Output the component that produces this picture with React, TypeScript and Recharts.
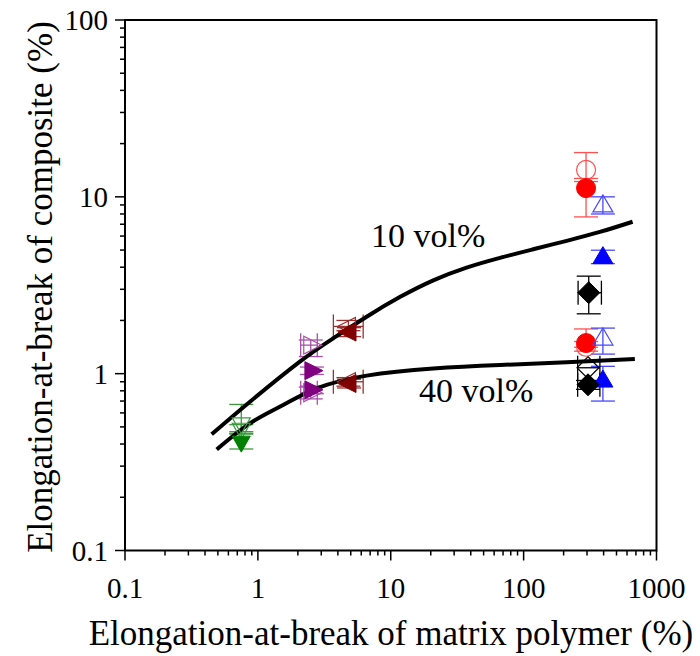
import React from 'react';
import {
  ComposedChart,
  XAxis,
  YAxis,
  Scatter,
  Line,
  ErrorBar,
  ReferenceArea,
  Customized,
} from 'recharts';

// ---------- ticks ----------
const X_MAJOR = [0.1, 1, 10, 100, 1000];
const X_LABELS = ['0.1', '1', '10', '100', '1000'];
const X_MINOR = [0.2, 0.3, 0.4, 0.5, 0.6, 0.7, 0.8, 0.9, 2, 3, 4, 5, 6, 7, 8, 9, 20, 30, 40, 50, 60, 70, 80, 90, 200, 300, 400, 500, 600, 700, 800, 900];
const Y_MAJOR = [0.1, 1, 10, 100];
const Y_LABELS = ['0.1', '1', '10', '100'];
const Y_MINOR = [0.2, 0.3, 0.4, 0.5, 0.6, 0.7, 0.8, 0.9, 2, 3, 4, 5, 6, 7, 8, 9, 20, 30, 40, 50, 60, 70, 80, 90];

// ---------- model curves ----------
const curve10X = [0.449, 0.872, 2.07, 3.69, 6.59, 11.7, 20.9, 37.2, 66.4, 118, 211, 375, 661];
const curve10Y = [0.454, 0.694, 1.17, 1.585, 2.1, 2.71, 3.37, 3.98, 4.52, 5.05, 5.64, 6.33, 7.23];
const curve40X = [0.49, 0.872, 1.55, 2.77, 6.59, 20.9, 66.4, 211, 687];
const curve40Y = [0.373, 0.524, 0.665, 0.826, 0.975, 1.07, 1.12, 1.16, 1.21];

// ---------- measured data ----------
// green (down triangles)
const greenOpenX = [0.75, 0.75];
const greenOpenY = [0.52, 0.485];
const greenOpenErr = [[0.05, 0.15], [0.03, 0.03]];
const greenFilledX = [0.75];
const greenFilledY = [0.41];
const greenFilledErr = [[0.035, 0.05]];

// purple (right triangles)
const purpleOpenX = [2.5, 2.5];
const purpleOpenY = [1.45, 0.78];
const purpleOpenErr = [[0.2, 0.1], [0.06, 0.06]];
const purpleOpenXErr = [[0.4, 0.3], [0.4, 0.3]];
const purpleFilledX = [2.55, 2.55];
const purpleFilledY = [1.04, 0.81];
const purpleFilledErr = [[0.05, 0.05], [0.04, 0.04]];

// dark red (left triangles)
const maroonOpenX = [4.8, 4.8];
const maroonOpenY = [1.85, 0.9];
const maroonOpenErr = [[0.1, 0.15], [0.05, 0.05]];
const maroonOpenXErr = [[1.1, 1.4], [1.1, 1.4]];
const maroonFilledX = [4.85, 4.85];
const maroonFilledY = [1.72, 0.88];
const maroonFilledErr = [[0.1, 0.1], [0.05, 0.05]];

// red (circles)
const redOpenX = [295, 295];
const redOpenY = [14.2, 1.42];
const redOpenErr = [[1.5, 3.6], [0.08, 0.1]];
const redFilledX = [295, 295];
const redFilledY = [11.2, 1.49];
const redFilledErr = [[3.5, 1.0], [0.08, 0.3]];

// blue (up triangles)
const blueOpenX = [395, 395];
const blueOpenY = [9.0, 1.59];
const blueOpenErr = [[1.0, 1.0], [0.3, 0.22]];
const blueFilledX = [395, 395];
const blueFilledY = [4.59, 0.92];
const blueFilledErr = [[0.4, 0.4], [0.22, 0.18]];

// black (diamonds)
const blackOpenX = [305];
const blackOpenY = [1.08];
const blackOpenXErr = [[50, 70]];
const blackFilledX = [309, 305];
const blackFilledY = [2.87, 0.865];
const blackFilledErr = [[0.69, 0.69], [0.05, 0.05]];
const blackFilledXErr = [[52, 76], [50, 70]];

type Pt = { x: number; y: number; ey?: number[]; ex?: number[] };
const build = (xs: number[], ys: number[], ey?: number[][], ex?: number[][]): Pt[] =>
  xs.map((x, i) => ({ x, y: ys[i], ey: ey ? ey[i] : undefined, ex: ex ? ex[i] : undefined }));

const curve10 = curve10X.map((x, i) => ({ x, y: curve10Y[i] }));
const curve40 = curve40X.map((x, i) => ({ x, y: curve40Y[i] }));

const FONT = '"Liberation Serif", "Times New Roman", serif';

// ---------- shapes ----------
const poly = (pts: number[][]) => pts.map((p) => p.join(',')).join(' ');
const mk = (kind: string, color: string, open: boolean) => (props: any) => {
  const { cx, cy } = props;
  if (cx == null || cy == null) return <g />;
  const fill = open ? 'none' : color;
  const stroke = color;
  const sw = open ? 1.2 : 1;
  switch (kind) {
    case 'down':
      return <polygon points={poly([[cx - 9, cy - 6], [cx + 9, cy - 6], [cx, cy + 10]])} fill={fill} stroke={stroke} strokeWidth={sw} />;
    case 'up':
      return <polygon points={poly([[cx - 10, cy + 7], [cx + 10, cy + 7], [cx, cy - 10]])} fill={fill} stroke={stroke} strokeWidth={sw} />;
    case 'right':
      return <polygon points={poly([[cx - 7, cy - 9], [cx - 7, cy + 9], [cx + 11, cy]])} fill={fill} stroke={stroke} strokeWidth={sw} />;
    case 'left':
      return <polygon points={poly([[cx + 7, cy - 9], [cx + 7, cy + 9], [cx - 11, cy]])} fill={fill} stroke={stroke} strokeWidth={sw} />;
    case 'circle':
      return <circle cx={cx} cy={cy} r={9.5} fill={fill} stroke={stroke} strokeWidth={sw} />;
    case 'diamond':
    default:
      return <polygon points={poly([[cx, cy - 11], [cx + 11, cy], [cx, cy + 11], [cx - 11, cy]])} fill={fill} stroke={stroke} strokeWidth={sw} />;
  }
};

// ---------- ticks ----------
const near = (a: number, b: number) => Math.abs(a - b) < 1e-9 * Math.max(1, b);

const XTick = (props: any) => {
  const { x, y, payload } = props;
  const idx = X_MAJOR.findIndex((v) => near(v, payload.value));
  const major = idx >= 0;
  return (
    <g>
      <line x1={x} x2={x} y1={y} y2={y + (major ? 10 : 5)} stroke="#000" strokeWidth={1.5} />
      {major && (
        <text x={x} y={y + 47} textAnchor="middle" fontFamily={FONT} fontSize={29} fill="#000">
          {X_LABELS[idx]}
        </text>
      )}
    </g>
  );
};

const YTick = (props: any) => {
  const { x, y, payload } = props;
  const idx = Y_MAJOR.findIndex((v) => near(v, payload.value));
  const major = idx >= 0;
  return (
    <g>
      <line x1={x} x2={x - (major ? 10 : 5)} y1={y} y2={y} stroke="#000" strokeWidth={1.5} />
      {major && (
        <text x={x - 17} y={y + 10} textAnchor="end" fontFamily={FONT} fontSize={29} fill="#000">
          {Y_LABELS[idx]}
        </text>
      )}
    </g>
  );
};

const Annotations = () => (
  <g fontFamily={FONT} fill="#000">
    <text x={371} y={247} fontSize={34}>10 vol%</text>
    <text x={419} y={402} fontSize={34}>40 vol%</text>
    <text x={391} y={645} fontSize={35} textAnchor="middle">Elongation-at-break of matrix polymer (%)</text>
    <text x={0} y={0} fontSize={35} textAnchor="middle" transform="translate(52 287) rotate(-90)">
      Elongation-at-break of composite (%)
    </text>
  </g>
);

const ebY = (color: string) => <ErrorBar dataKey="ey" direction="y" width={12} stroke={color} strokeWidth={1.3} />;
const ebX = (color: string) => <ErrorBar dataKey="ex" direction="x" width={12} stroke={color} strokeWidth={1.3} />;

const GREEN = '#008000';
const GREEN_E = '#3c9a3c';
const PURPLE = '#800080';
const PURPLE_E = '#a850a8';
const MAROON = '#800000';
const MAROON_E = '#9a3030';
const RED = '#ff0000';
const RED_E = '#ff5050';
const BLUE = '#0000ff';
const BLUE_E = '#4848ff';
const BLACK = '#000000';

export default function App() {
  return (
    <div style={{ position: 'absolute', left: 0, top: 0, background: '#fff' }}>
      <ComposedChart width={700} height={656} margin={{ top: 20, right: 43.5, bottom: 0, left: 0 }}>
        <XAxis
          type="number"
          dataKey="x"
          scale="log"
          domain={[0.1, 1000]}
          ticks={[...X_MAJOR, ...X_MINOR]}
          interval={0}
          tick={<XTick />}
          tickLine={false}
          tickSize={0}
          tickMargin={0}
          axisLine={false}
          height={105.5}
          allowDataOverflow
        />
        <YAxis
          type="number"
          dataKey="y"
          scale="log"
          domain={[0.1, 100]}
          ticks={[...Y_MAJOR, ...Y_MINOR]}
          interval={0}
          tick={<YTick />}
          tickLine={false}
          tickSize={0}
          tickMargin={0}
          axisLine={false}
          width={125}
          allowDataOverflow
        />
        <ReferenceArea x1={0.1} x2={1000} y1={0.1} y2={100} fill="none" stroke="#000" strokeWidth={2} ifOverflow="visible" />

        <Scatter data={build(greenOpenX, greenOpenY, greenOpenErr)} shape={mk('down', GREEN_E, true)} isAnimationActive={false}>
          {ebY(GREEN_E)}
        </Scatter>
        <Scatter data={build(greenFilledX, greenFilledY, greenFilledErr)} shape={mk('down', GREEN, false)} isAnimationActive={false}>
          {ebY(GREEN_E)}
        </Scatter>

        <Scatter data={build(purpleOpenX, purpleOpenY, purpleOpenErr, purpleOpenXErr)} shape={mk('right', PURPLE_E, true)} isAnimationActive={false}>
          {ebY(PURPLE_E)}
          {ebX(PURPLE_E)}
        </Scatter>
        <Scatter data={build(purpleFilledX, purpleFilledY, purpleFilledErr)} shape={mk('right', PURPLE, false)} isAnimationActive={false}>
          {ebY(PURPLE_E)}
        </Scatter>

        <Scatter data={build(maroonOpenX, maroonOpenY, maroonOpenErr, maroonOpenXErr)} shape={mk('left', MAROON_E, true)} isAnimationActive={false}>
          {ebY(MAROON_E)}
          {ebX(MAROON_E)}
        </Scatter>
        <Scatter data={build(maroonFilledX, maroonFilledY, maroonFilledErr)} shape={mk('left', MAROON, false)} isAnimationActive={false}>
          {ebY(MAROON_E)}
        </Scatter>

        <Scatter data={build(redOpenX, redOpenY, redOpenErr)} shape={mk('circle', RED_E, true)} isAnimationActive={false}>
          {ebY(RED_E)}
        </Scatter>
        <Scatter data={build(redFilledX, redFilledY, redFilledErr)} shape={mk('circle', RED, false)} isAnimationActive={false}>
          {ebY(RED_E)}
        </Scatter>

        <Scatter data={build(blueOpenX, blueOpenY, blueOpenErr)} shape={mk('up', BLUE_E, true)} isAnimationActive={false}>
          {ebY(BLUE_E)}
        </Scatter>
        <Scatter data={build(blueFilledX, blueFilledY, blueFilledErr)} shape={mk('up', BLUE, false)} isAnimationActive={false}>
          {ebY(BLUE_E)}
        </Scatter>

        <Scatter data={build(blackOpenX, blackOpenY, undefined, blackOpenXErr)} shape={mk('diamond', BLACK, true)} isAnimationActive={false}>
          {ebX(BLACK)}
        </Scatter>
        <Scatter data={build(blackFilledX, blackFilledY, blackFilledErr, blackFilledXErr)} shape={mk('diamond', BLACK, false)} isAnimationActive={false}>
          {ebY(BLACK)}
          {ebX(BLACK)}
        </Scatter>

        <Line data={curve10} dataKey="y" type="natural" stroke="#000" strokeWidth={4} dot={false} activeDot={false} isAnimationActive={false} />
        <Line data={curve40} dataKey="y" type="natural" stroke="#000" strokeWidth={4} dot={false} activeDot={false} isAnimationActive={false} />

        <Customized component={<Annotations />} />
      </ComposedChart>
    </div>
  );
}
